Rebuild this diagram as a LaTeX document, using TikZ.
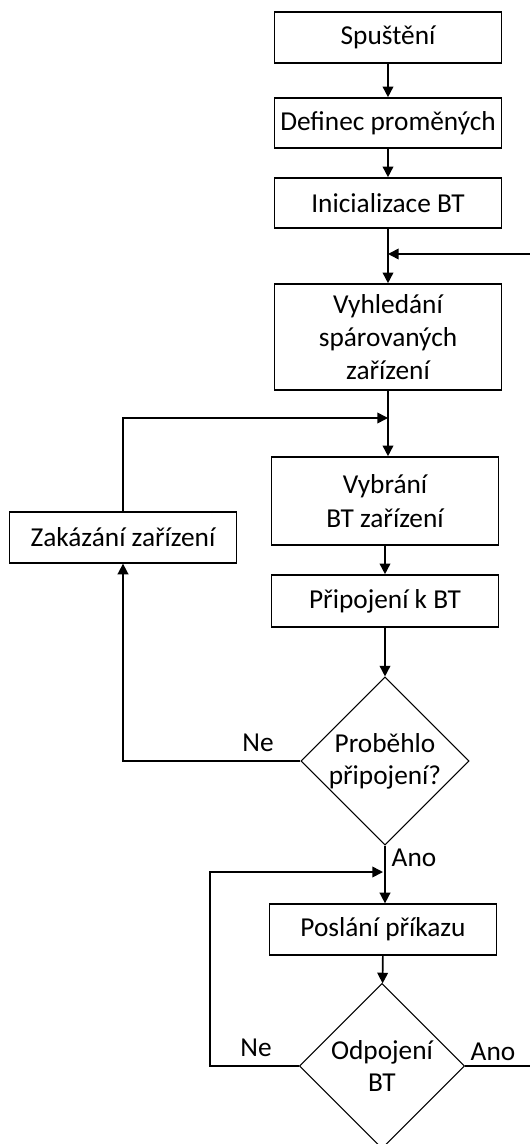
\documentclass[tikz,border=0pt]{standalone}
\usepackage{fontspec}
\setmainfont{Carlito}
\usetikzlibrary{shapes.geometric, arrows.meta, calc}

\tikzset{
  >={Triangle[length=8pt,width=8pt]},
  blok/.style={draw, line width=1.2pt, align=center, minimum width=170pt, inner sep=0pt, font=\fontsize{20.5}{25}\selectfont},
  rozhod/.style={diamond, draw, line width=0.8pt, align=center, minimum width=124pt, minimum height=124pt, inner sep=0pt, font=\fontsize{20.5}{24}\selectfont},
  tok/.style={line width=1.2pt, ->},
  cara/.style={line width=1.2pt},
  popis/.style={font=\fontsize{20.5}{24}\selectfont, inner sep=0pt}
}

\begin{document}
\begin{tikzpicture}[x=0.75pt, y=-0.75pt]
		\useasboundingbox (0,0) rectangle (530,1144);
		% bloky
		\node[blok, minimum height=38pt] (start) at (388,37.5) {Spuštění};
		\node[blok, minimum height=37.5pt] (defin) at (388,123) {Definec proměných};
		\node[blok, minimum height=37.5pt] (init) at (388,203) {Inicializace BT};
		\node[blok, minimum height=79.5pt] (search) at (388,337) {Vyhledání\\spárovaných\\zařízení};
		\node[blok, minimum height=66pt] (select) at (385,501) {Vybrání\\ BT zařízení};
		\node[blok, minimum height=39pt] (connect) at (385,601) {Připojení k BT};
		\node[blok, minimum height=38pt] (disable) at (123,537.5) {Zakázání zařízení};
		\node[rozhod] (check) at (385,761) {Proběhlo\\připojení?};
		\node[blok, minimum height=38pt] (send) at (383,929.5) {Poslání příkazu};
		\node[rozhod] (disc) at (382,1066) {Odpojení\\BT};
		% pomocne body
		\coordinate (back) at (530,254);
		\coordinate (merge1) at (388,418);
		\coordinate (merge2) at (383,872);
		\coordinate (turn2) at (210,1066);
		\coordinate (exit) at (530,1066);
		% popisy
		\node[popis] (ne1) at (258,743) {Ne};
		\node[popis] (ano1) at (414,858) {Ano};
		\node[popis] (ne2) at (256,1048) {Ne};
		\node[popis] (ano2) at (493,1052) {Ano};
		% spoje
		\draw[tok] (start) -- (defin);
		\draw[tok] (defin) -- (init);
		\draw[tok] (init) -- (search);
		\draw[tok] (back) -- (init.south |- back);
		\draw[tok] (search.south) -- (search.south |- select.north);
		\draw[tok] (disable.north) |- (merge1);
		\draw[tok] (select) -- (connect);
		\draw[tok] (connect) -- (check);
		\draw[tok] (check.west) -| (disable.south);
		\draw[tok] (check.south) -- (check.south |- send.north);
		\draw[tok] (disc.west) -- (turn2) |- (merge2);
		\draw[tok] (send) -- (disc);
		\draw[cara] (disc.east) -- (exit);
	\end{tikzpicture}
\end{document}
